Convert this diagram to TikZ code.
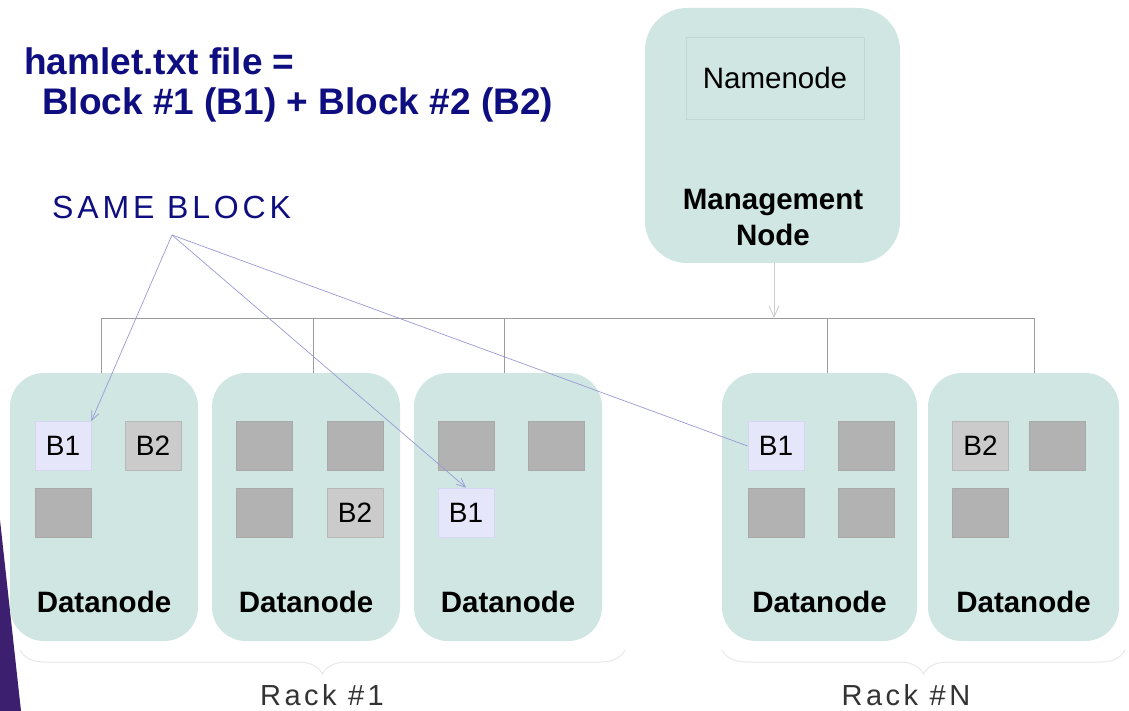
\documentclass[tikz,border=0pt]{standalone}
\usepackage{fontspec}
\setmainfont{Liberation Sans}
\newfontfamily\spacedfont[LetterSpace=12]{Liberation Sans}
\usetikzlibrary{arrows.meta,decorations.pathreplacing}
\definecolor{teal1}{HTML}{CFE6E2}
\definecolor{navy1}{HTML}{0E0E80}
\definecolor{lav}{HTML}{E6E6FA}
\definecolor{lavb}{HTML}{D6D6F2}
\definecolor{gb2}{HTML}{CBCBCB}
\definecolor{gb2b}{HTML}{B8B8B8}
\definecolor{gblk}{HTML}{B2B2B2}
\definecolor{gblkb}{HTML}{A9A9A9}
\definecolor{bus}{HTML}{9C9C9C}
\definecolor{ptr}{HTML}{9A9AD6}
\definecolor{purp}{HTML}{3C1F6E}
\tikzset{
  x=1pt,y=-1pt,
  dnode/.style={draw=none,fill=teal1,rounded corners=34pt,minimum height=268pt,inner sep=0pt},
  mgmt/.style={draw=none,fill=teal1,rounded corners=42pt,minimum width=255pt,minimum height=255pt,inner sep=0pt},
  blk/.style={minimum width=56pt,minimum height=49pt,inner sep=0pt,line width=0.8pt,font=\fontsize{28}{32}\selectfont},
  b1/.style={blk,fill=lav,draw=lavb},
  b2/.style={blk,fill=gb2,draw=gb2b},
  gb/.style={blk,fill=gblk,draw=gblkb},
  dlabel/.style={font=\fontsize{29.5}{34}\selectfont\bfseries,anchor=base},
  busline/.style={draw=bus,line width=0.9pt},
  ptrline/.style={draw=ptr,line width=0.7pt},
  rackbrace/.style={draw=black!9,line width=1pt,decorate,decoration={brace,mirror,amplitude=24pt}},
  racktext/.style={font=\spacedfont\fontsize{29}{33}\selectfont,anchor=base,text=black!80},
}
\begin{document}
\begin{tikzpicture}
\useasboundingbox (0,0) rectangle (1129,711);
\fill[white] (0,0) rectangle (1129,711);
% purple wedge at left edge
\fill[purp] (0,520) -- (21,711) -- (0,711) -- cycle;

% title
\node[anchor=base west,inner sep=0pt,text=navy1,font=\fontsize{37}{41}\selectfont\bfseries] (t1) at (24,75) {hamlet.txt file =};
\node[anchor=base west,inner sep=0pt,text=navy1,font=\fontsize{37}{41}\selectfont\bfseries] (t2) at (42,115) {Block \#1 (B1) + Block \#2 (B2)};
\node[anchor=base west,inner sep=0pt,text=navy1,font=\spacedfont\fontsize{32}{36}\selectfont] (same) at (52,219) {SAME BLOCK};
\coordinate (apex) at (172,235);

% management node
\node[mgmt] (mg) at (772.5,135.5) {};
\node[draw=teal1!85!black!40!teal1,line width=0.6pt,fill=teal1,minimum width=178pt,minimum height=82pt,inner sep=0pt,font=\fontsize{29.5}{33}\selectfont] (nn) at (775,78) {Namenode};
\node[font=\fontsize{29.5}{36}\selectfont\bfseries,align=center,anchor=base] (mgl) at (773,246) {Management\\Node};

% datanodes
\node[dnode,minimum width=188pt] (dn1) at (104,507) {};
\node[dnode,minimum width=188pt] (dn2) at (306,507) {};
\node[dnode,minimum width=188pt] (dn3) at (508,507) {};
\node[dnode,minimum width=195pt] (dn4) at (819.5,507) {};
\node[dnode,minimum width=191pt] (dn5) at (1023.5,507) {};
\node[dlabel] (dl1) at (104,612) {Datanode};
\node[dlabel] (dl2) at (306,612) {Datanode};
\node[dlabel] (dl3) at (508,612) {Datanode};
\node[dlabel] (dl4) at (819.5,612) {Datanode};
\node[dlabel] (dl5) at (1023.5,612) {Datanode};

% blocks
\node[b1] (a1) at (63,446) {B1};
\node[b2] (a2) at (153,446) {B2};
\node[gb] (a3) at (63,512.5) {};
\node[gb] (c1) at (264,446) {};
\node[gb] (c2) at (355,446) {};
\node[gb] (c3) at (264,512.5) {};
\node[b2] (c4) at (355,512.5) {B2};
\node[gb] (d1) at (466,446) {};
\node[gb] (d2) at (556,446) {};
\node[b1] (d3) at (466,512.5) {B1};
\node[b1] (e1) at (776,446) {B1};
\node[gb] (e2) at (866,446) {};
\node[gb] (e3) at (776,512.5) {};
\node[gb] (e4) at (866,512.5) {};
\node[b2] (f1) at (980.5,446) {B2};
\node[gb] (f2) at (1057,446) {};
\node[gb] (f3) at (980.5,512.5) {};

% bus
\coordinate (bl) at (101,318);
\coordinate (br) at (1034,318);
\draw[busline] (bl) -- (br);
\draw[busline] (bl) -- (bl |- dn1.north);
\draw[busline] (313,318) -- (313,373);
\draw[busline] (504,318) -- (504,373);
\draw[busline] (827,318) -- (827,373);
\draw[busline] (br) -- (br |- dn5.north);
\draw[draw=black!20,line width=0.8pt,-{Straight Barb[length=11pt,width=10pt]}] (mg.south -| 774,0) -- (774,318);

% pointers from SAME BLOCK
\draw[ptrline,-{Straight Barb[length=9pt,width=8pt]}] (apex) -- (a1.north east);
\draw[ptrline,-{Straight Barb[length=9pt,width=8pt]}] (apex) -- (d3.north);
\draw[ptrline] (apex) -- (e1.west);

% racks
\draw[rackbrace] (20,650) -- (625,650);
\draw[rackbrace] (722,650) -- (1125,650);
\node[racktext] (r1) at (322,705) {Rack \#1};
\node[racktext] (rn) at (906,705) {Rack \#N};
\end{tikzpicture}
\end{document}
